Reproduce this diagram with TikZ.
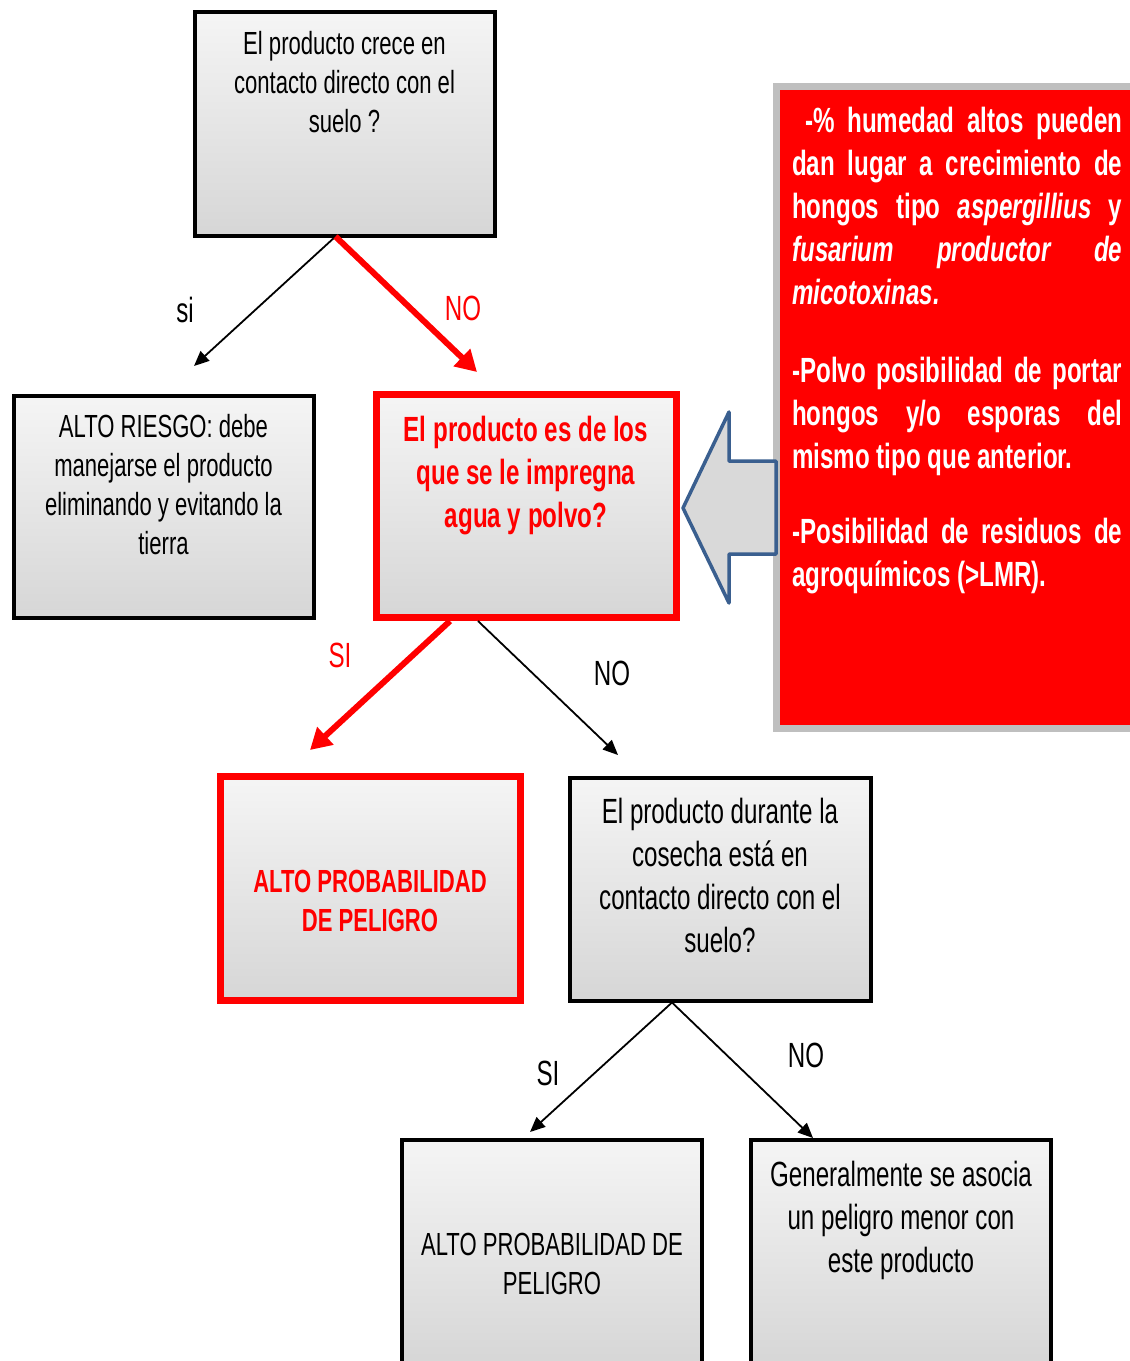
\documentclass[tikz,border=0pt]{standalone}
\usepackage{fontspec}
\setmainfont{Liberation Sans}
\newfontfamily\nar[FakeStretch=0.69]{Liberation Sans}
\usetikzlibrary{arrows.meta,calc}
\definecolor{flowred}{RGB}{255,0,0}
\definecolor{arrowblue}{RGB}{58,95,143}
\setlength{\parindent}{0pt}

\begin{document}
\begin{tikzpicture}[x=1pt,y=-1pt,
  flowbox/.style={rectangle, draw=black, line width=4pt, top color=black!4, bottom color=black!16,
    minimum width=300pt, minimum height=224pt, inner sep=0pt, outer sep=0pt},
  redbox/.style={flowbox, draw=flowred, line width=7pt},
  txt/.style={anchor=north, inner sep=0pt, align=center, font=\nar\fontsize{32}{39}\selectfont},
  txtl/.style={txt, font=\nar\fontsize{35}{43}\selectfont},
  lbl/.style={inner sep=0pt, font=\nar\fontsize{35}{42}\selectfont},
  link/.style={draw=black, line width=1.8pt, -{Triangle[length=15pt,width=13pt]}},
  redlink/.style={draw=flowred, line width=6pt, -{Triangle[length=21pt,width=23pt]}},
]
\useasboundingbox (0,0) rectangle (1130,1361);
\clip (0,0) rectangle (1130,1361);

% note panel on the right
\node[rectangle, fill=flowred, draw=black!25, line width=7pt, minimum width=363.5pt,
  minimum height=641.5pt, inner sep=0pt, outer sep=0pt] (note) at (958.25,407.25) {};
\node[anchor=north west, inner sep=0pt, text width=330pt, align=justify, text=white,
  font=\nar\bfseries\fontsize{35}{43}\selectfont] (notet) at (792,107)
  {\hspace*{13pt}-\% humedad altos pueden\linebreak
   dan lugar a crecimiento de\linebreak
   hongos tipo \textit{aspergillius} y\linebreak
   \textit{fusarium productor de}\linebreak
   \textit{micotoxinas.}\par\vspace{35pt}
   -Polvo posibilidad de portar\linebreak
   hongos y/o esporas del\linebreak
   mismo tipo que anterior.\par\vspace{32pt}
   -Posibilidad de residuos de\linebreak
   agroquímicos (>LMR).};

% block arrow pointing at the second question
\draw[arrowblue, line width=3.5pt, fill=black!15, line join=round]
  (776,461) -- (729,461) -- (729,412) -- (683,508) -- (729,603) -- (729,554) -- (776,554) -- cycle;

% boxes
\node[flowbox] (q1) at (344.5,123.5) {};
\node[txt] (q1t) at ($(q1.north)+(0,20)$) {El producto crece en\\contacto directo con el\\suelo ?};

\node[flowbox, minimum height=222pt] (r1) at (163.5,506.5) {};
\node[txt] (r1t) at ($(r1.north)+(0,19)$) {ALTO RIESGO: debe\\manejarse el producto\\eliminando y evitando la\\tierra};

\node[redbox, minimum height=223pt] (q2) at (526,505.5) {};
\node[txtl, text=flowred, font=\nar\bfseries\fontsize{35}{43}\selectfont] (q2t) at ($(q2.north)+(0,21.5)$)
  {El producto es de los\\que se le impregna\\agua y polvo?};

\node[redbox] (r2) at (370,888) {};
\node[txt, text=flowred, font=\nar\bfseries\fontsize{32}{39}\selectfont] (r2t) at ($(r2.north)+(0,93.5)$)
  {ALTO PROBABILIDAD\\DE PELIGRO};

\node[flowbox, minimum width=301pt, minimum height=223pt] (q3) at (720,889) {};
\node[txtl] (q3t) at ($(q3.north)+(0,20)$) {El producto durante la\\cosecha está en\\contacto directo con el\\suelo?};

\node[flowbox] (r3) at (552,1251.5) {};
\node[txt] (r3t) at ($(r3.north)+(0,93)$) {ALTO PROBABILIDAD DE\\PELIGRO};

\node[flowbox] (r4) at (901,1251.5) {};
\node[txtl] (r4t) at ($(r4.north)+(0,21)$) {Generalmente se asocia\\un peligro menor con\\este producto};

% connector end points
\coordinate (e1) at (194,366);
\coordinate (e2) at (477,372);
\coordinate (e3) at (310,750);
\coordinate (e4) at (618,755);
\coordinate (e5) at (530,1132);
\coordinate (e6) at (813,1138);

% connectors
\draw[link] ($(q1.south)+(-9,1)$) -- (e1);
\draw[redlink] ($(q1.south)+(-9,1)$) -- (e2);
\draw[redlink] ($(q2.south)+(-76,4)$) -- (e3);
\draw[link] ($(q2.south)+(-48,4)$) -- (e4);
\draw[link] ($(q3.south)+(-48,2)$) -- (e5);
\draw[link] ($(q3.south)+(-48,2)$) -- (e6);

% branch labels
\node[lbl] (l1) at (185,310) {si};
\node[lbl, text=flowred] (l2) at (463,308) {NO};
\node[lbl, text=flowred] (l3) at (340,655) {SI};
\node[lbl] (l4) at (612,673) {NO};
\node[lbl] (l5) at (548,1073) {SI};
\node[lbl] (l6) at (806,1055) {NO};
\end{tikzpicture}
\end{document}
